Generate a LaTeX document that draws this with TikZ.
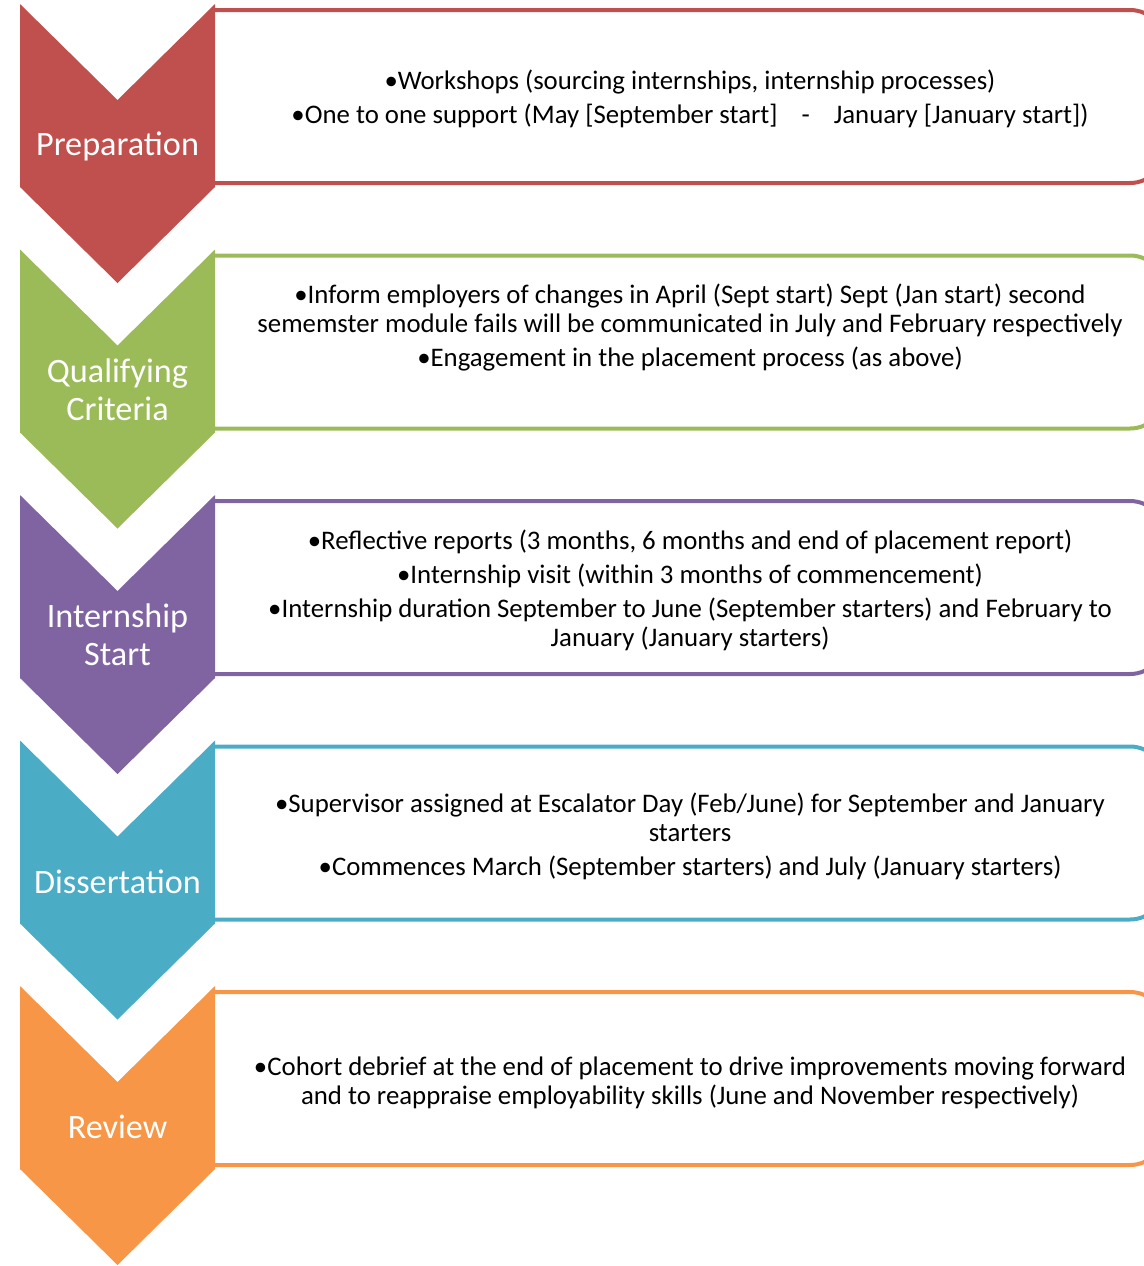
\documentclass[tikz,border=0pt]{standalone}
\usepackage{fontspec}
\setmainfont{Carlito}
\usepackage{xcolor}
\usepackage{tikz}
\definecolor{prepred}{HTML}{C0504D}
\definecolor{qualgreen}{HTML}{9BBB59}
\definecolor{startpurple}{HTML}{8064A2}
\definecolor{dissteal}{HTML}{4BACC6}
\definecolor{revorange}{HTML}{F79646}

\begin{document}
\begin{tikzpicture}[x=0.5pt,y=-0.5pt]
    \tikzstyle{bar}=[line width=2pt, rounded corners=17.5pt]
    \tikzstyle{stagelabel}=[text=white, font=\fontsize{17.1}{19}\selectfont, align=center]
    \tikzstyle{bullets}=[text=black, font=\fontsize{13.4}{14.5}\selectfont, align=center]

    \useasboundingbox (0,0) rectangle (1144,1266);
    \clip (0,0) rectangle (1144,1266);

    \begin{scope}[shift={(0,4)}]

    \draw[bar, draw=prepred] (215,6) -- (1165,6) -- (1165,179) -- (215,179);
    \fill[prepred] (20,0) -- (117.5,96) -- (215,0) -- (215,183) -- (117.5,279) -- (20,183) -- cycle;
    \node[stagelabel] (prep) at (117.5,142) {Preparation};
    \node[bullets] (preptext) at (690,95) {•Workshops (sourcing internships, internship processes)\\[2.5pt]
        •One to one support (May [September start]\hspace{12pt}-\hspace{12pt}January [January start])};

    \end{scope}


    \begin{scope}[shift={(0,249.5)}]

    \draw[bar, draw=qualgreen] (215,6) -- (1165,6) -- (1165,179) -- (215,179);
    \fill[qualgreen] (20,0) -- (117.5,96) -- (215,0) -- (215,183) -- (117.5,279) -- (20,183) -- cycle;
    \node[stagelabel] (qual) at (117.5,140) {Qualifying\\Criteria};
    \node[bullets] (qualtext) at (690,78) {•Inform employers of changes in April (Sept start) Sept (Jan start) second\\
        sememster module fails will be communicated in July and February respectively\\[2.5pt]
        •Engagement in the placement process (as above)};

    \end{scope}


    \begin{scope}[shift={(0,495)}]

    \draw[bar, draw=startpurple] (215,6) -- (1165,6) -- (1165,179) -- (215,179);
    \fill[startpurple] (20,0) -- (117.5,96) -- (215,0) -- (215,183) -- (117.5,279) -- (20,183) -- cycle;
    \node[stagelabel] (start) at (117.5,140) {Internship\\Start};
    \node[bullets] (starttext) at (690,95.5) {•Reflective reports (3 months, 6 months and end of placement report)\\[2.5pt]
        •Internship visit (within 3 months of commencement)\\[2.5pt]
        •Internship duration September to June (September starters) and February to\\
        January (January starters)};

    \end{scope}


    \begin{scope}[shift={(0,740.5)}]

    \draw[bar, draw=dissteal] (215,6) -- (1165,6) -- (1165,179) -- (215,179);
    \fill[dissteal] (20,0) -- (117.5,96) -- (215,0) -- (215,183) -- (117.5,279) -- (20,183) -- cycle;
    \node[stagelabel] (diss) at (117.5,141) {Dissertation};
    \node[bullets] (disstext) at (690,96) {•Supervisor assigned at Escalator Day (Feb/June) for September and January\\
        starters\\[2.5pt]
        •Commences March (September starters) and July (January starters)};

    \end{scope}


    \begin{scope}[shift={(0,986)}]

    \draw[bar, draw=revorange] (215,6) -- (1165,6) -- (1165,179) -- (215,179);
    \fill[revorange] (20,0) -- (117.5,96) -- (215,0) -- (215,183) -- (117.5,279) -- (20,183) -- cycle;
    \node[stagelabel] (review) at (117.5,141) {Review};
    \node[bullets] (reviewtext) at (690,96.5) {•Cohort debrief at the end of placement to drive improvements moving forward\\
        and to reappraise employability skills (June and November respectively)};

    \end{scope}

\end{tikzpicture}
\end{document}
